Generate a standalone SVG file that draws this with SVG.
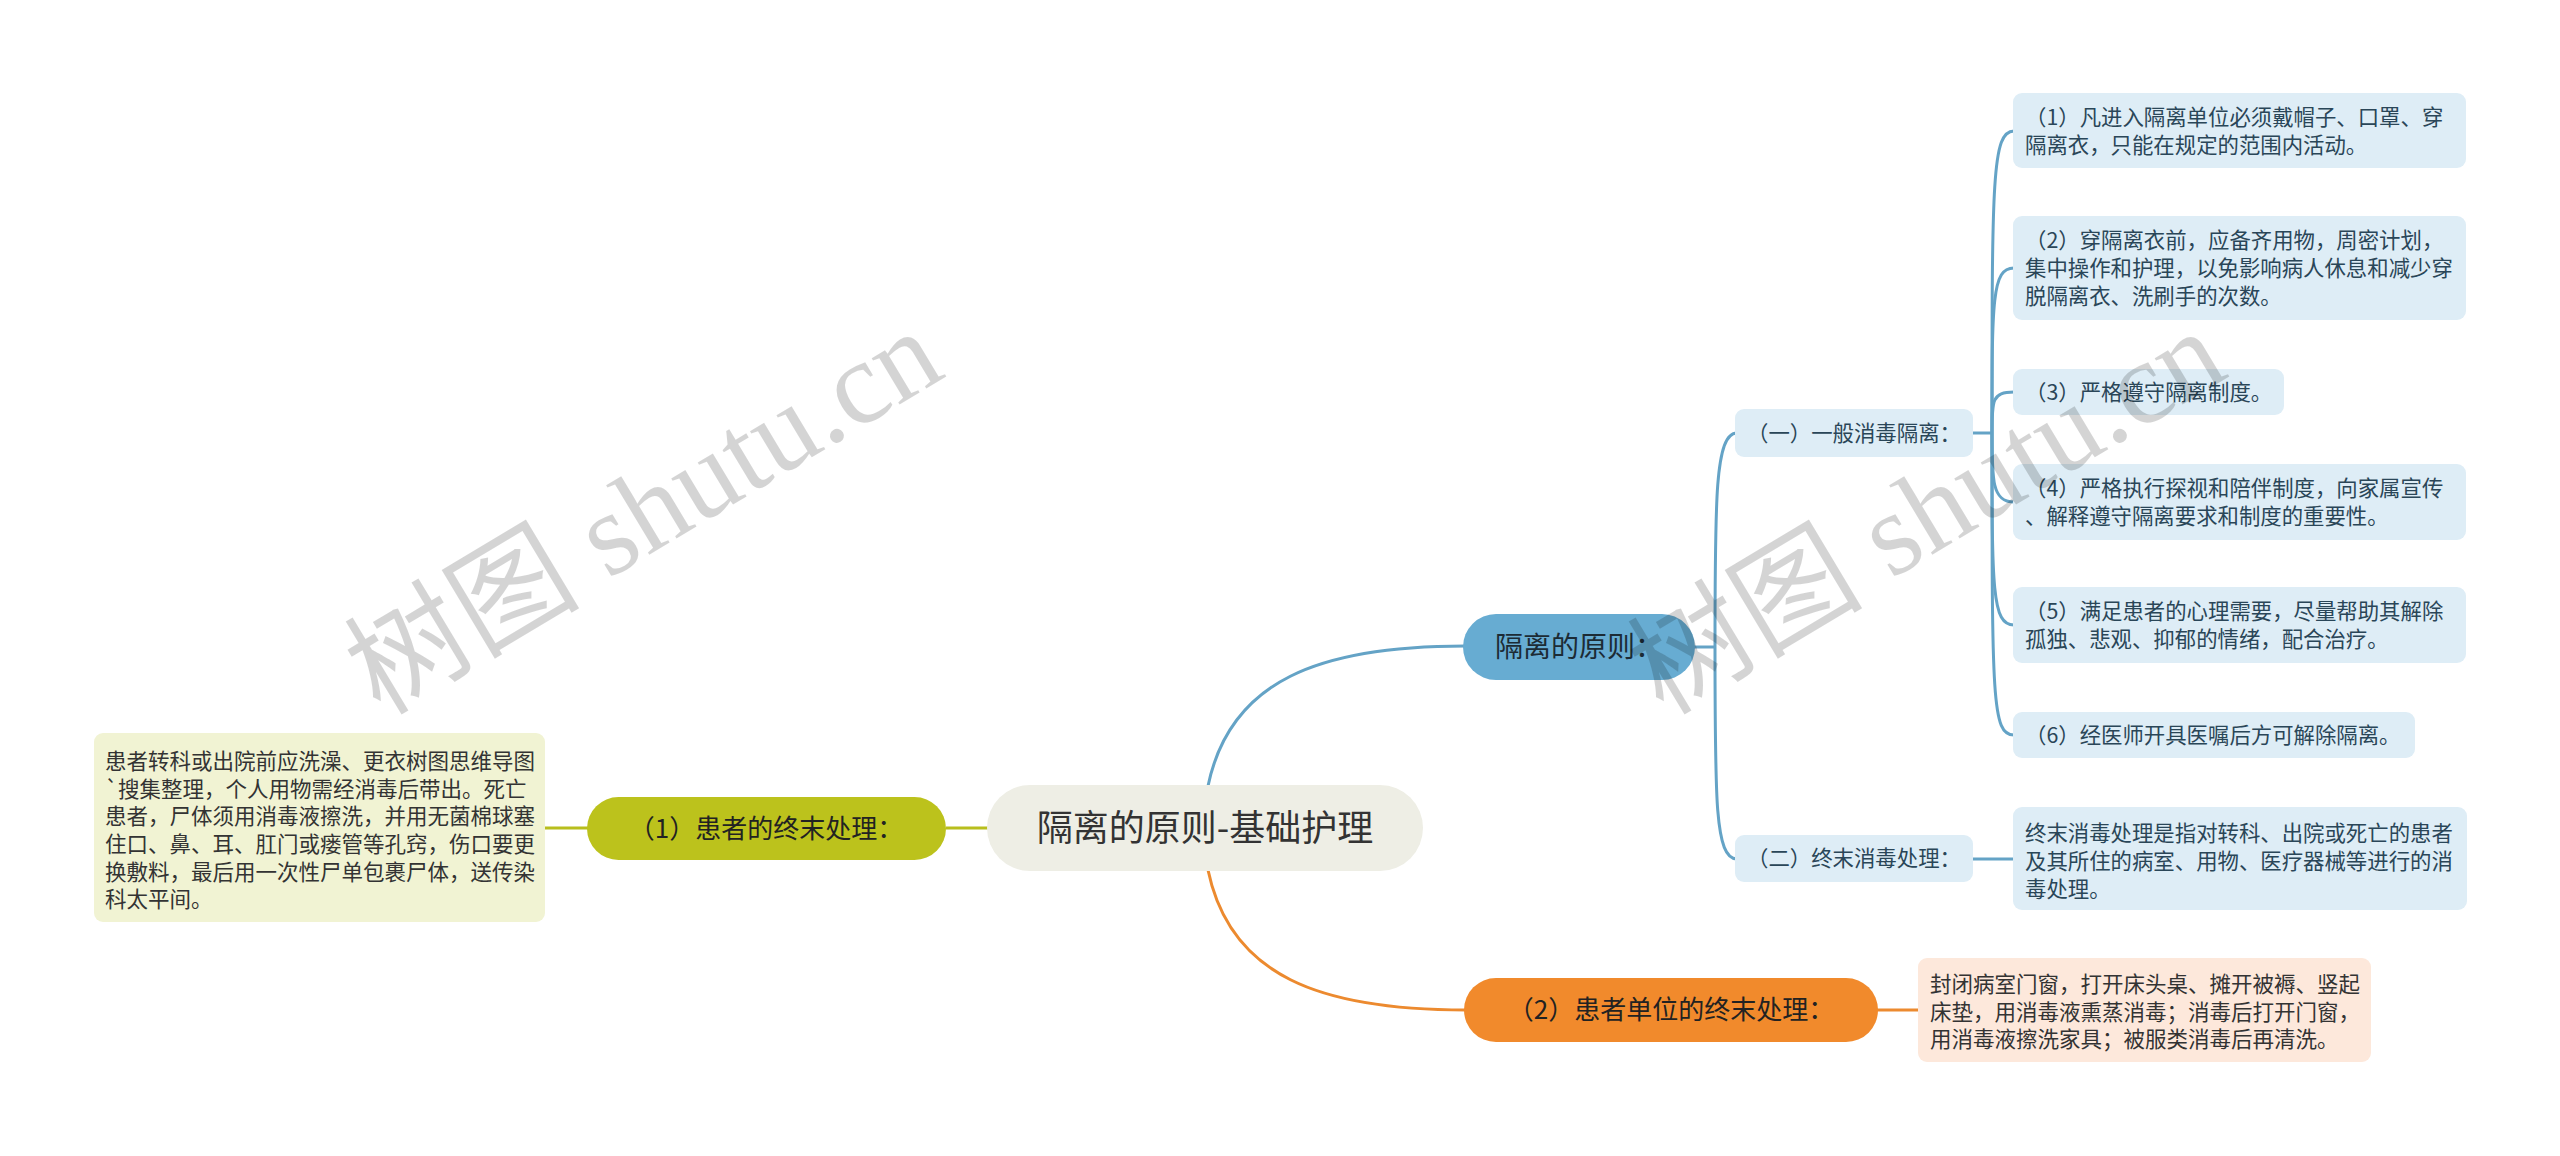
<svg xmlns="http://www.w3.org/2000/svg" width="2560" height="1156" viewBox="0 0 2560 1156">
<style>
text{font-family:"Noto Sans CJK SC","Noto Sans",sans-serif;}
.t21{font-size:21.4px;fill:#2a4658;}
.t215{font-size:21.5px;fill:#333333;}
.pill{font-size:26px;fill:#222222;text-anchor:middle;}
.sub{fill:#deedf6;}
.bl{fill:none;stroke:#64a3c6;stroke-width:3;}
.ol{fill:none;stroke:#b8be1c;stroke-width:3;}
.or{fill:none;stroke:#ec8a2f;stroke-width:3;}
.wm{font-family:"Liberation Serif","Noto Sans CJK SC",serif;font-size:118px;fill:#000000;fill-opacity:0.17;text-anchor:middle;}
</style>
<rect width="2560" height="1156" fill="#ffffff"/>
<g id="connectors">
<path class="bl" d="M1208,786 C1230,680 1320,646 1465,646"/>
<path class="or" d="M1208,870 C1230,976 1320,1010 1466,1010"/>
<path class="ol" d="M988,828 H946"/>
<path class="ol" d="M588,828 H545"/>
<path class="or" d="M1877,1010 H1919"/>
<path class="bl" d="M1694,647 H1715"/>
<path class="bl" d="M1715,647 C1715,500 1715,433 1737,433"/>
<path class="bl" d="M1715,647 C1715,800 1715,859 1737,859"/>
<path class="bl" d="M1972,433 H1992"/>
<path class="bl" d="M1992,433 C1992,180 1992,131 2014,131"/>
<path class="bl" d="M1992,433 C1992,300 1992,268 2014,268"/>
<path class="bl" d="M1992,433 C1992,400 1992,392 2014,392"/>
<path class="bl" d="M1992,433 C1992,480 1992,502 2014,502"/>
<path class="bl" d="M1992,433 C1992,590 1992,625 2014,625"/>
<path class="bl" d="M1992,433 C1992,700 1992,735 2014,735"/>
<path class="bl" d="M1972,859 H2014"/>
</g>
<g id="root">
<rect x="987" y="785" width="436" height="86" rx="43" fill="#eeeee5"/>
<text x="1205" y="841" style="font-size:36px;fill:#333333;text-anchor:middle;">隔离的原则-基础护理</text>
</g>
<g id="n-left">
<rect x="587" y="797" width="359" height="63" rx="31.5" fill="#bcc21c"/>
<text class="pill" x="766" y="838">（1）患者的终末处理：</text>
</g>
<g id="n-left-detail">
<rect x="94" y="733" width="451" height="189" rx="9" fill="#f1f3d3"/>
<text class="t215" x="105" y="769">患者转科或出院前应洗澡、更衣树图思维导图</text>
<text class="t215" x="105" y="797">`搜集整理，个人用物需经消毒后带出。死亡</text>
<text class="t215" x="105" y="824">患者，尸体须用消毒液擦洗，并用无菌棉球塞</text>
<text class="t215" x="105" y="852">住口、鼻、耳、肛门或瘘管等孔窍，伤口要更</text>
<text class="t215" x="105" y="880">换敷料，最后用一次性尸单包裹尸体，送传染</text>
<text class="t215" x="105" y="907">科太平间。</text>
</g>
<g id="n-blue">
<rect x="1463" y="614" width="232" height="66" rx="33" fill="#67acd2"/>
<text class="pill" x="1579" y="657" style="font-size:28px;fill:#1c2b35;">隔离的原则：</text>
</g>
<g id="n-general">
<rect class="sub" x="1735" y="409" width="238" height="48" rx="9"/>
<text class="t21" x="1747" y="441">（一）一般消毒隔离：</text>
</g>
<g id="n-terminal">
<rect class="sub" x="1735" y="835" width="238" height="47" rx="9"/>
<text class="t21" x="1747" y="866">（二）终末消毒处理：</text>
</g>
<g id="n-g1">
<rect class="sub" x="2013" y="93" width="453" height="75" rx="9"/>
<text class="t21" x="2025" y="125">（1）凡进入隔离单位必须戴帽子、口罩、穿</text>
<text class="t21" x="2025" y="153">隔离衣，只能在规定的范围内活动。</text>
</g>
<g id="n-g2">
<rect class="sub" x="2013" y="216" width="453" height="104" rx="9"/>
<text class="t21" x="2025" y="248">（2）穿隔离衣前，应备齐用物，周密计划，</text>
<text class="t21" x="2025" y="276">集中操作和护理，以免影响病人休息和减少穿</text>
<text class="t21" x="2025" y="304">脱隔离衣、洗刷手的次数。</text>
</g>
<g id="n-g3">
<rect class="sub" x="2013" y="369" width="271" height="46" rx="9"/>
<text class="t21" x="2025" y="400">（3）严格遵守隔离制度。</text>
</g>
<g id="n-g4">
<rect class="sub" x="2013" y="464" width="453" height="76" rx="9"/>
<text class="t21" x="2025" y="496">（4）严格执行探视和陪伴制度，向家属宣传</text>
<text class="t21" x="2025" y="524">、解释遵守隔离要求和制度的重要性。</text>
</g>
<g id="n-g5">
<rect class="sub" x="2013" y="587" width="453" height="76" rx="9"/>
<text class="t21" x="2025" y="619">（5）满足患者的心理需要，尽量帮助其解除</text>
<text class="t21" x="2025" y="647">孤独、悲观、抑郁的情绪，配合治疗。</text>
</g>
<g id="n-g6">
<rect class="sub" x="2013" y="712" width="402" height="46" rx="9"/>
<text class="t21" x="2025" y="743">（6）经医师开具医嘱后方可解除隔离。</text>
</g>
<g id="n-t1">
<rect class="sub" x="2013" y="807" width="454" height="103" rx="9"/>
<text class="t21" x="2025" y="841">终末消毒处理是指对转科、出院或死亡的患者</text>
<text class="t21" x="2025" y="869">及其所住的病室、用物、医疗器械等进行的消</text>
<text class="t21" x="2025" y="897">毒处理。</text>
</g>
<g id="n-orange">
<rect x="1464" y="978" width="414" height="64" rx="32" fill="#f18a2c"/>
<text class="pill" x="1671" y="1019">（2）患者单位的终末处理：</text>
</g>
<g id="n-orange-detail">
<rect x="1918" y="958" width="453" height="104" rx="9" fill="#fde8db"/>
<text class="t215" x="1930" y="992">封闭病室门窗，打开床头桌、摊开被褥、竖起</text>
<text class="t215" x="1930" y="1020">床垫，用消毒液熏蒸消毒；消毒后打开门窗，</text>
<text class="t215" x="1930" y="1047">用消毒液擦洗家具；被服类消毒后再清洗。</text>
</g>
<g id="watermark">
<text class="wm" transform="translate(664,546) rotate(-31)">树图 shutu.cn</text>
<text class="wm" transform="translate(1947,546) rotate(-31)">树图 shutu.cn</text>
</g>
</svg>
